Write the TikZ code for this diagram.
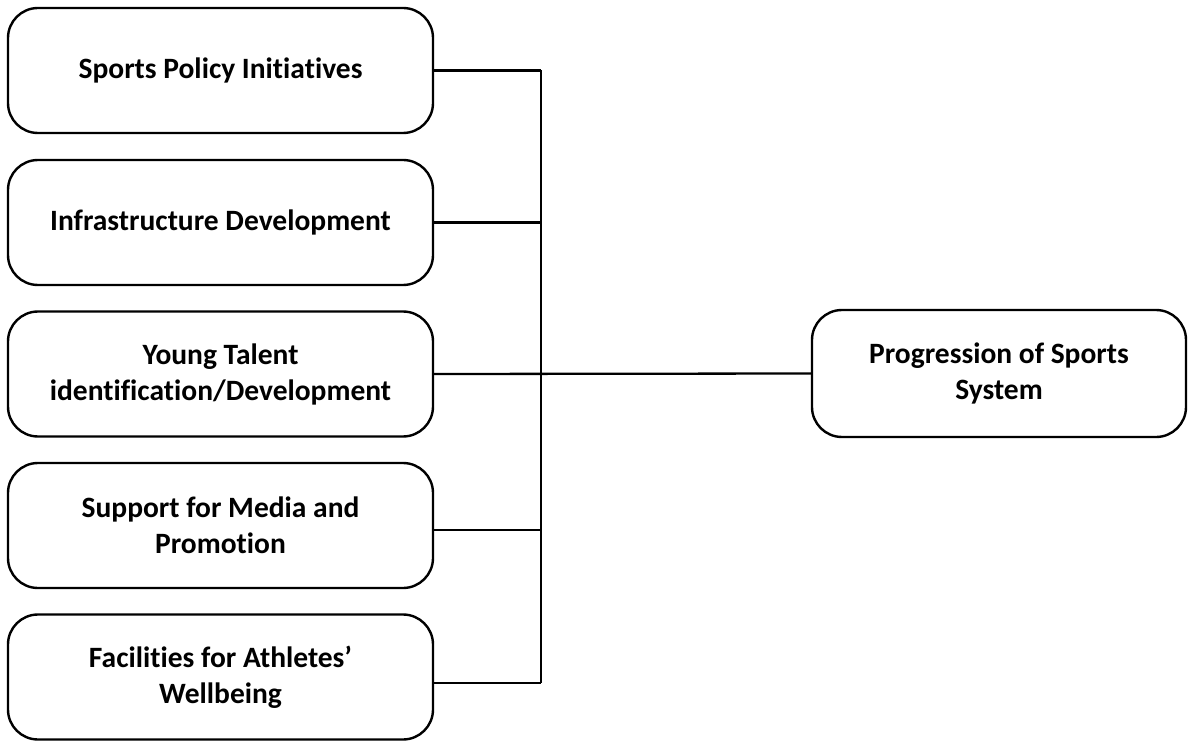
\documentclass[tikz,border=0pt]{standalone}
\usepackage{fontspec}
\setmainfont{Carlito}[RawFeature=-liga]
\begin{document}
\begin{tikzpicture}[x=1pt,y=1pt,
  factor/.style={draw=black, line width=2.4pt, rounded corners=30pt,
    minimum width=425pt, minimum height=125pt, align=center,
    font=\fontsize{29.5}{36}\selectfont\bfseries, inner sep=0pt},
  outcome/.style={factor, minimum width=374pt, minimum height=127pt},
  link/.style={draw=black, line width=2.3pt}]
\useasboundingbox (0,0) rectangle (1194,-743);

% factor boxes on the left
\node[factor] (b1) at (220.5,-70.5) {Sports Policy Initiatives};
\node[factor] (b2) at (220.5,-222.5) {Infrastructure Development};
\node[factor] (b3) at (220.5,-374) {Young Talent\\identification/Development};
\node[factor] (b4) at (220.5,-525.5) {Support for Media and\\Promotion};
\node[factor] (b5) at (220.5,-677) {Facilities for Athletes’\\Wellbeing};

% outcome box on the right
\node[outcome] (hub) at (999,-373.5) {Progression of Sports\\System};

% collecting spine
\coordinate (spineTop) at (541,-70.5);
\coordinate (spineBot) at (541,-683);
\draw[link] (spineTop) -- (spineBot);

\draw[link] (b1.east) -- (b1.east -| spineTop);
\draw[link] (b2.east) -- (b2.east -| spineTop);
\draw[link] ([yshift=-4.5pt]b4.east) -- ([yshift=-4.5pt]b4.east -| spineTop);
\draw[link] (spineBot -| b5.east) -- (spineBot);
\draw[link] (b3.east) -- (hub.west);
\end{tikzpicture}
\end{document}
